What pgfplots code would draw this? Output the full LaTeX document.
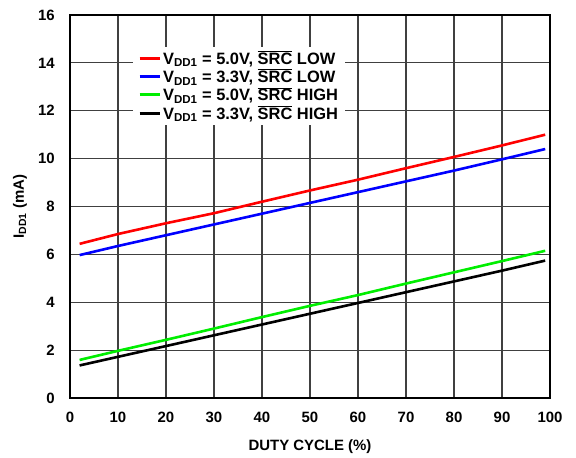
\documentclass[border=0pt]{standalone}
\usepackage{fontspec}
\setmainfont{Liberation Sans}
\usepackage{pgfplots}
\pgfplotsset{compat=1.18}

\definecolor{gridgray}{RGB}{64,64,64}
\definecolor{cRed}{RGB}{255,0,0}
\definecolor{cBlue}{RGB}{0,0,255}
\definecolor{cGreen}{RGB}{0,238,0}

\newcommand{\vdd}{V\textsubscript{DD1}}
\newcommand{\src}{$\overline{\mbox{SRC}}$}

\begin{document}
\begin{tikzpicture}
\begin{axis}[
    scale only axis,
    width=480bp, height=383bp,
    xmin=0, xmax=100, ymin=0, ymax=16,
    xtick={0,10,...,100},
    ytick={0,2,...,16},
    grid=major,
    major grid style={color=gridgray, line width=1.2bp},
    axis line style={line width=1.8bp},
    tick style={draw=none},
    /pgf/number format/assume math mode=true,
    tick label style={font=\fontsize{15}{16}\selectfont\bfseries},
    xticklabel style={inner sep=0pt, anchor=north, yshift=-14bp},
    yticklabel style={inner sep=0pt, anchor=east, xshift=-15bp},
    label style={font=\fontsize{15}{16}\selectfont\bfseries},
    xlabel={DUTY CYCLE (\%)},
    ylabel={I\textsubscript{DD1} (mA)},
    xlabel style={at={(axis description cs:0.5,-0.128)}, anchor=center},
    ylabel style={at={(axis description cs:-0.104,0.5)}, anchor=center},
    legend style={
        at={(axis description cs:0.131,0.918)}, anchor=north west,
        draw=none, fill=white, inner xsep=5bp, inner ysep=2bp,
        font=\fontsize{16.5}{17}\selectfont\bfseries,
        row sep=-0.5bp,
        cells={anchor=west},
    },
    legend image code/.code={\draw[#1, line width=3bp] (0bp,0bp) -- (20bp,0bp);},
    every axis plot/.append style={line width=2.6bp},
]
\addplot[cRed] coordinates {
    (2,6.44) (10,6.85) (20,7.3) (30,7.72) (40,8.2) (50,8.67) (60,9.12) (70,9.6) (80,10.07) (90,10.55) (99,11.0)
};
\addplot[cBlue] coordinates {
    (2,5.97) (10,6.35) (20,6.8) (30,7.25) (40,7.7) (50,8.15) (60,8.6) (70,9.05) (80,9.5) (90,9.97) (99,10.4)
};
\addplot[cGreen] coordinates {
    (2,1.59) (10,1.97) (20,2.43) (30,2.9) (40,3.38) (50,3.85) (60,4.3) (70,4.78) (80,5.25) (90,5.72) (99,6.15)
};
\addplot[black] coordinates {
    (2,1.36) (10,1.72) (20,2.17) (30,2.62) (40,3.07) (50,3.52) (60,3.97) (70,4.42) (80,4.87) (90,5.32) (99,5.74)
};
\legend{{\vdd{} = 5.0V, \src{} LOW},
        {\vdd{} = 3.3V, \src{} LOW},
        {\vdd{} = 5.0V, \src{} HIGH},
        {\vdd{} = 3.3V, \src{} HIGH}}
\end{axis}
\path[use as bounding box] (-70bp,-57bp) rectangle (506bp,398bp);
\end{tikzpicture}
\end{document}
